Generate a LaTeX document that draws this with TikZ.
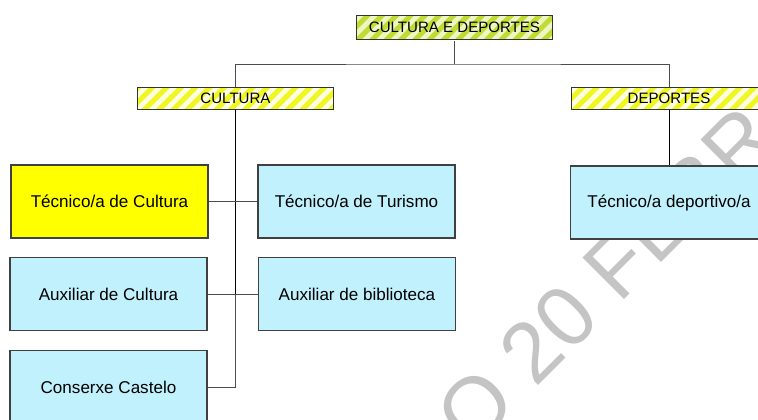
\documentclass[tikz,border=0pt]{standalone}
\usepackage{fontspec}
\setmainfont{Liberation Sans}
\usepackage{xcolor}
\usetikzlibrary{positioning,patterns.meta}
\definecolor{hdrgreen}{RGB}{192,220,52}
\definecolor{hdrgreenlt}{RGB}{238,247,196}
\definecolor{hdryellow}{RGB}{240,246,34}
\definecolor{hdryellowlt}{RGB}{255,255,226}
\definecolor{postcyan}{RGB}{192,241,252}
\definecolor{postyellow}{RGB}{255,255,0}
\definecolor{wmgray}{RGB}{196,196,196}

\begin{document}
\begin{tikzpicture}[
    x=0.75pt, y=-0.75pt,
    header/.style={draw=black!80, line width=0.6pt, inner sep=0pt,
                   minimum width=147pt, minimum height=16pt,
                   font=\fontsize{11.3}{13}\selectfont},
    area/.style={header, preaction={fill=hdryellow},
                 pattern={Lines[angle=45, distance=7.6pt, line width=3.6pt]},
                 pattern color=hdryellowlt},
    dept/.style={header, minimum height=18pt, preaction={fill=hdrgreen},
                 pattern={Lines[angle=45, distance=7.6pt, line width=3.6pt]},
                 pattern color=hdrgreenlt},
    post/.style={draw=black!75, line width=0.8pt, inner sep=0pt,
                 minimum width=147.75pt, minimum height=54.75pt,
                 fill=postcyan, font=\fontsize{12.8}{15}\selectfont},
    conn/.style={line width=0.6pt, black!70},
    spine/.style={line width=1pt, black},
]
    \clip (0,0) rectangle (758,419);
    \useasboundingbox (0,0) rectangle (758,419);

    % Watermark
    \node[anchor=base west, rotate=45, inner sep=0pt, text=wmgray,
          font=\fontsize{64}{64}\selectfont] (mark) at (472,452) {O 20 FEBR};

    % Headers
    \node[dept] (cyd) at (454.5,27) {CULTURA E DEPORTES};
    \node[area] (cult) at (235.5,98.5) {CULTURA};
    \node[area] (dep) at (669,98.5) {DEPORTES};

    % Cultura posts
    \node[post, fill=postyellow] (tcult) at (109.5,201.5) {Técnico/a de Cultura};
    \node[post] (ttur) at (356.5,201.5) {Técnico/a de Turismo};
    \node[post] (aux) at (108.5,294) {Auxiliar de Cultura};
    \node[post] (bib) at (357,294) {Auxiliar de biblioteca};
    \node[post] (cons) at (108.5,387) {Conserxe Castelo};

    % Deportes post
    \node[post] (tdep) at (669,202.5) {Técnico/a deportivo/a};

    % Top links
    \coordinate (bus) at (454.5,64);
    \draw[conn] (cyd.south) -- (bus);
    \draw[conn] (cult.north) |- (bus) -| (dep.north);

    % Cultura spine
    \draw[spine] (cult.south) -- (cult.south |- aux.east);
    \draw[conn] (cult.south |- aux.east) |- (cons.east);
    \draw[conn] (tcult.east) -- (ttur.west);
    \draw[conn] (aux.east) -- (bib.west);

    % Deportes link
    \draw[conn, black] (dep.south) -- (tdep.north);

\end{tikzpicture}
\end{document}
